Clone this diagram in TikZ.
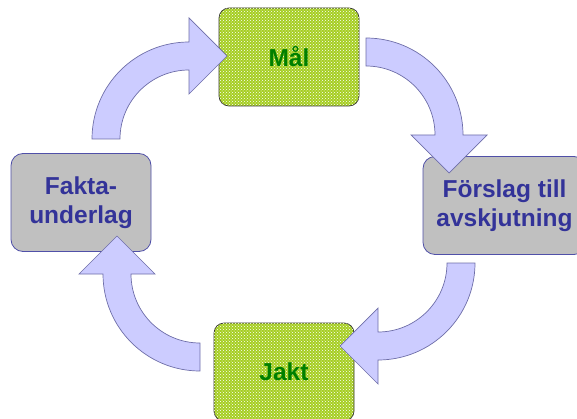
\documentclass[tikz,border=0pt]{standalone}
\usepackage{fontspec}
\setmainfont{Liberation Sans}
\usepackage{tikz}
\usetikzlibrary{patterns}

\definecolor{arrowfill}{HTML}{CCCCFF}
\definecolor{arrowline}{HTML}{6E6EA8}
\definecolor{grayfill}{HTML}{C0C0C0}
\definecolor{grayline}{HTML}{5050A8}
\definecolor{graytext}{HTML}{333399}
\definecolor{grass}{HTML}{A6CE22}
\definecolor{grasstext}{HTML}{008000}

\tikzset{
	greenbox/.style={draw=black!80, line width=.7pt, rounded corners=10pt, minimum width=140pt, minimum height=98pt, fill=grass, postaction={pattern=crosshatch dots, pattern color=white}, text=grasstext},
	graybox/.style={draw=grayline, line width=.8pt, rounded corners=12pt, minimum height=98pt, fill=grayfill, text=graytext, align=center},
	bigarrow/.style={fill=arrowfill, draw=arrowline, line width=.7pt}
}

% curved block arrow round centre #1, from angle #2 to angle #3
\newcommand{\cyclearrow}[3]{
	\draw[bigarrow] ([shift={(#2:97pt)}]#1) arc[start angle=#2, end angle=#3, radius=97pt]
		-- ([shift={(#3:121pt)}]#1) -- ([shift={(#3:83pt)}, shift={(#3-90:38pt)}]#1)
		-- ([shift={(#3:45pt)}]#1) -- ([shift={(#3:69pt)}]#1)
		arc[start angle=#3, end angle=#2, radius=69pt] -- cycle;
}

\begin{document}
\begin{tikzpicture}[x=1pt, y=1pt, font=\bfseries\fontsize{24.5}{29}\selectfont]
	\useasboundingbox (0,0) rectangle (577,418);

	\node[greenbox](Mal) at (289,361){Mål};
	\node[graybox, minimum width=163pt](Forslag) at (504.5,212.5){Förslag till\\avskjutning};
	\node[greenbox](Jakt) at (284,46){Jakt};
	\node[graybox, minimum width=140pt](Fakta) at (81,215.5){Fakta-\\underlag};

	\coordinate (toLeft) at (189,279);
	\coordinate (toRight) at (366,283);
	\coordinate (downRight) at (378,155);
	\coordinate (downLeft) at (200,144);

	\cyclearrow{toLeft}{180}{90}
	\cyclearrow{toRight}{90}{0}
	\cyclearrow{downRight}{0}{-90}
	\cyclearrow{downLeft}{270}{180}
\end{tikzpicture}
\end{document}
